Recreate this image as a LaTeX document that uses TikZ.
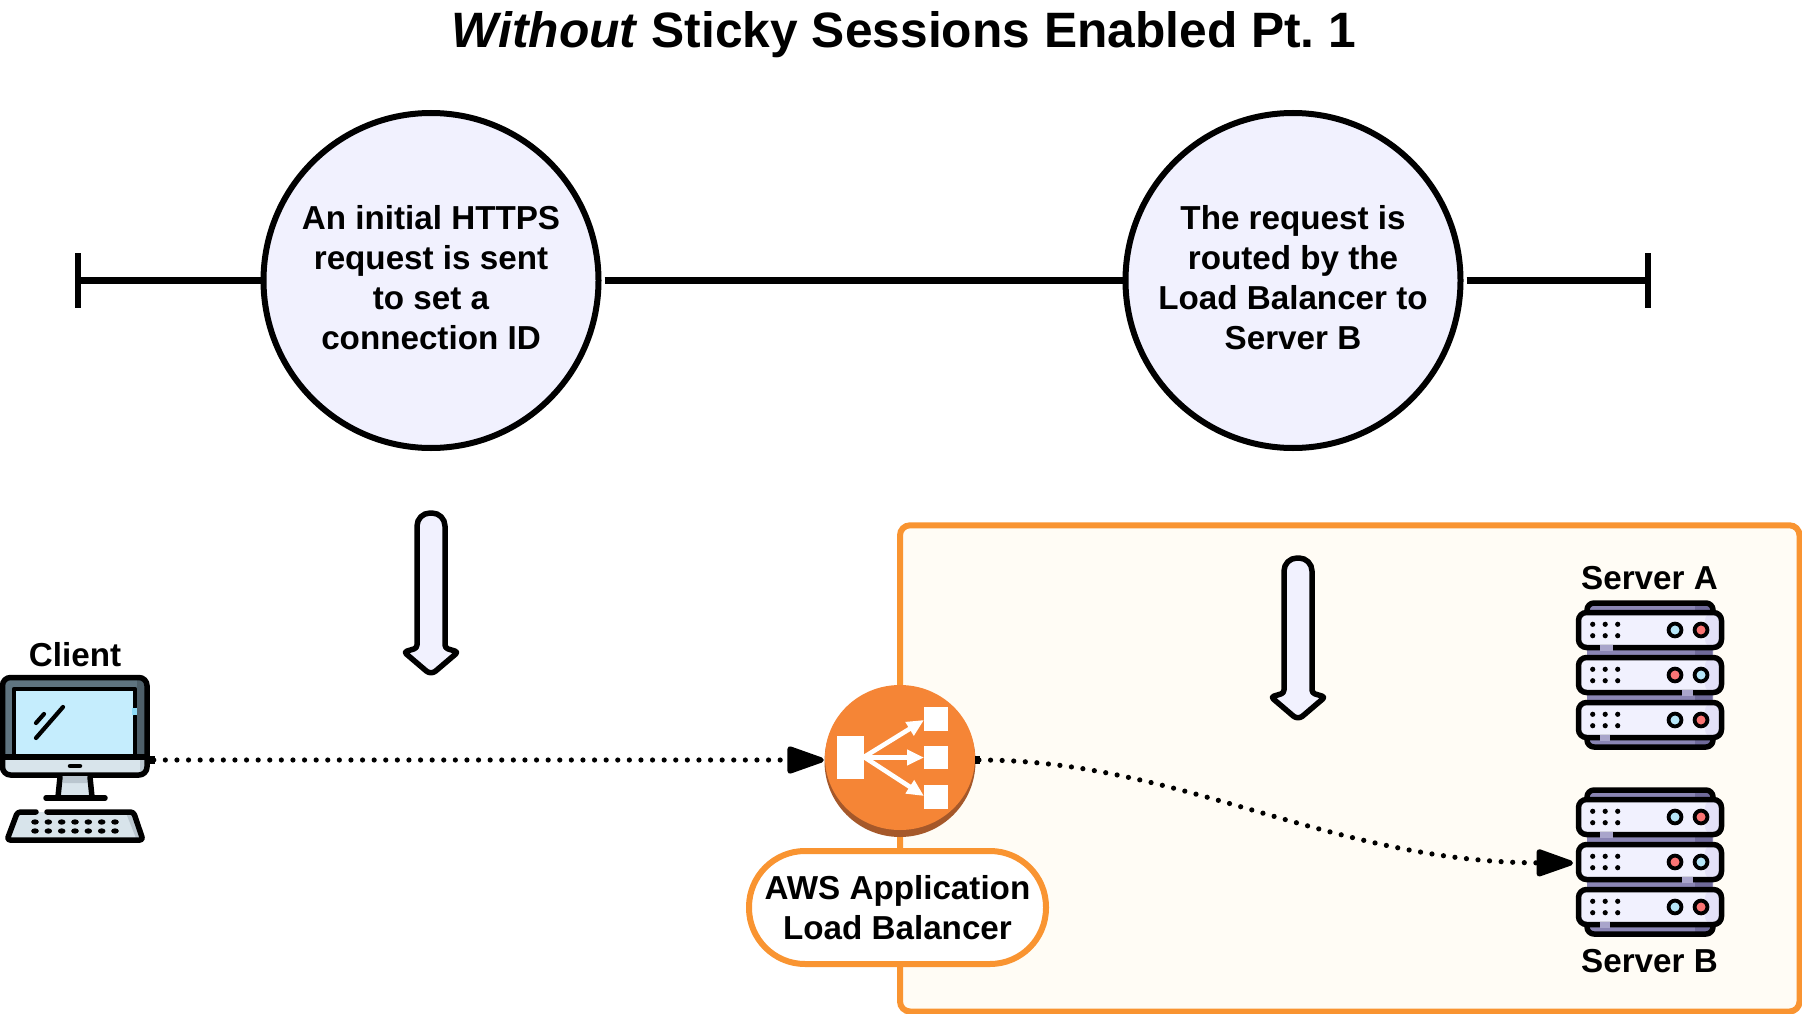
\documentclass[tikz,border=0pt]{standalone}
\usepackage{fontspec}
\setmainfont{Liberation Sans}
\usetikzlibrary{arrows.meta,shapes.geometric}
\definecolor{lav}{HTML}{F1F1FE}
\definecolor{lavd}{HTML}{E3E1F8}
\definecolor{capc}{HTML}{8A85B4}
\definecolor{capd}{HTML}{6F6A9A}
\definecolor{capl}{HTML}{A9A5CB}
\definecolor{panelc}{HTML}{FFFCF5}
\definecolor{oline}{HTML}{F99431}
\definecolor{ofill}{HTML}{F58536}
\definecolor{obrown}{HTML}{A5582A}
\definecolor{ledb}{HTML}{B5E6F8}
\definecolor{ledr}{HTML}{FB7474}
\definecolor{bezel}{HTML}{5F7480}
\definecolor{bezeld}{HTML}{4E5F69}
\definecolor{scr}{HTML}{C5EDFD}
\definecolor{scrl}{HTML}{8FDCF8}
\definecolor{chin}{HTML}{D8E4EB}
\definecolor{chind}{HTML}{BAC6CF}
\tikzset{
  x=1pt,y=-1pt,
  bodyfont/.style={font=\fontsize{33.2}{40}\selectfont\bfseries},
  bubble/.style={circle,draw=black,line width=6pt,fill=lav,minimum size=335pt,inner sep=0pt},
  bubbletext/.style={bodyfont,align=center,inner sep=0pt,yshift=3pt},
  timeline/.style={line width=6.4pt,draw=black},
  lbl/.style={bodyfont,align=center,inner sep=0pt},
  flow/.style={line width=5.2pt,line cap=round,dash pattern=on 0pt off 11.6pt,{Square[length=5pt,width=8pt,sep=0pt]}-{Triangle[length=42pt,width=28pt,round=false]}},
  ol/.style={line width=5.5pt,draw=black,line join=round,line cap=round},
  bigdown/.pic={
    \draw[line width=5.5pt,fill=lav,line join=round]
      [rounded corners=13pt] (-14,30) -- (-14,-14) -- (14,-14) -- (14,30)
      [rounded corners=3pt] -- (14,121) -- (27,125)
      [rounded corners=6pt] -- (0,148)
      [rounded corners=3pt] -- (-27,125) -- (-14,121) -- (-14,30) -- cycle;
  },
  serverunit/.pic={
    \fill[lav,rounded corners=8pt] (-71.5,-17.5) rectangle (71.5,17.5);
    \fill[lavd,rounded corners=8pt] (55,-17.5) rectangle (71.5,17.5);
    \draw[ol,rounded corners=8pt] (-71.5,-17.5) rectangle (71.5,17.5);
    \foreach \dx in {-57.3,-44.8,-32.3}\foreach \dy in {-5.7,5.7}\fill (\dx,\dy) circle (2.6pt);
  },
  serverpic/.pic={
    \fill[capc,rounded corners=6pt] (-63,-72) rectangle (63,72);
    \fill[capd] (45,-70) rectangle (62,70);
    \draw[ol,rounded corners=7pt] (-63,-62) -- (-63,-72) -- (63,-72) -- (63,-62);
    \draw[ol,rounded corners=7pt] (-63,62) -- (-63,72) -- (63,72) -- (63,62);
    \path (0,-45) pic {serverunit};
    \path (0,45) pic {serverunit};
    \path (0,0) pic {serverunit};
    \foreach \yy/\a/\b in {-45/ledb/ledr,0/ledr/ledb,45/ledb/ledr}{
      \filldraw[fill=\a,line width=3.8pt] (25,\yy) circle (6.4pt);
      \filldraw[fill=\b,line width=3.8pt] (51,\yy) circle (6.4pt);
    }
    \draw[capl,line width=6pt] (-50,-27.5) -- (-37,-27.5);
    \draw[capl,line width=6pt] (32,17.5) -- (43,17.5);
    \draw[capl,line width=6pt] (-50,62.5) -- (-40,62.5);
  },
}
\begin{document}
\begin{tikzpicture}
\useasboundingbox (0,0) rectangle (1802,1014);
\fill[white] (0,0) rectangle (1802,1014);

% title
\node[inner sep=0pt,font=\fontsize{49.7}{54}\selectfont\bfseries] (title) at (904,35) {\textit{Without} Sticky Sessions Enabled Pt.\ 1};

% timeline
\coordinate (tl) at (78,280.5);
\coordinate (tlA) at (78,253);
\coordinate (tlB) at (78,308);
\coordinate (tr) at (1648,280.5);
\coordinate (trA) at (1648,253);
\coordinate (trB) at (1648,308);
\node[bubble] (c1) at (431,280.5) {};
\node[bubbletext] (c1text) at (c1) {An initial HTTPS\\request is sent\\to set a\\connection ID};
\node[bubble] (c2) at (1293,280.5) {};
\node[bubbletext] (c2text) at (c2) {The request is\\routed by the\\Load Balancer to\\Server B};
\draw[timeline] (tlA) -- (tlB);
\draw[timeline] (trA) -- (trB);
\draw[timeline] (tl) -- (c1.west);
\draw[timeline,shorten <=3pt] (c1.east) -- (c2.west);
\draw[timeline,shorten <=3pt] (c2.east) -- (tr);

% panel
\draw[draw=oline,fill=panelc,line width=6pt,rounded corners=10pt] (900,525.3) rectangle (1799.5,1011.5);

% down arrows
\path (431,527) pic {bigdown};
\path (1298,572) pic {bigdown};

% client icon
\begin{scope}
\fill[bezel,rounded corners=8pt] (2.5,677.5) rectangle (147,758);
\fill[bezeld] (137,680) rectangle (147,756);
\fill[scr] (14,689) rectangle (135,755);
\draw[ol,line width=4.5pt] (14,755) -- (14,689) -- (135,689) -- (135,707);
\draw[ol,line width=4.5pt] (135,716) -- (135,755);
\fill[scrl] (132,708) rectangle (137,715);
\fill[chin,rounded corners=6pt] (3,757) rectangle (147,775);
\fill[chind] (140,758) rectangle (146,772);
\draw[ol,rounded corners=8pt] (2.5,757) -- (2.5,677.5) -- (147,677.5) -- (147,757);
\draw[ol,rounded corners=8pt] (2.5,757) -- (2.5,775) -- (147,775) -- (147,757);
\draw[ol] (2.5,757) -- (147,757);
\draw[ol,line width=4.5pt] (70,766) -- (80,766);
\draw[ol,line width=4.2pt] (36,723) -- (44,714);
\draw[ol,line width=4.2pt] (36,738) -- (63,707);
\fill[chin] (61,776) -- (90,776) -- (92,797) -- (59,797) -- cycle;
\fill[chind] (62,776) -- (90,776) -- (90,783) -- (63,783) -- cycle;
\draw[ol] (60,777) -- (58,797);
\draw[ol] (90,777) -- (92,797);
\draw[ol] (46,798) -- (105,798);
\fill[chin] (18,812) -- (133,812) -- (142,840) -- (8,840) -- cycle;
\fill[chind] (126,813) -- (133,813) -- (141,838) -- (136,838) -- cycle;
\draw[ol,rounded corners=3pt] (36,812) -- (17.5,812) -- (7,840) -- (143,840) -- (133.5,812) -- (47,812);
\foreach \kx in {35,48.3,61.7,75,88.3,101.7,115}\foreach \ky in {822,831}
  \fill (\kx,\ky) ellipse (3.8pt and 2.7pt);
\end{scope}
\coordinate (clientport) at (150,760);
\node[lbl] (clientlabel) at (75,655) {Client};

% servers
\path (1650,675) pic {serverpic};
\path (1650,862) pic {serverpic};
\coordinate (serverBport) at (1573,863);
\node[lbl] (serverAlabel) at (1649.5,578) {Server A};
\node[lbl] (serverBlabel) at (1649.5,961) {Server B};

% load balancer
\fill[obrown] (900,761.5) circle (75.5pt);
\fill[ofill] (900,757.5) ellipse (75pt and 72.5pt);
\node[circle,minimum size=150pt,inner sep=0pt] (lb) at (900,760) {};
\fill[white] (837,736) rectangle (864,779);
\fill[white] (924,707) rectangle (948,731);
\fill[white] (924,746) rectangle (948,769);
\fill[white] (924,785) rectangle (948,809);
\draw[white,line width=4.6pt,-{Triangle[length=17pt,width=15pt]}] (864,757) -- (924,720);
\draw[white,line width=4.6pt,-{Triangle[length=17pt,width=15pt]}] (864,757.5) -- (924,757.5);
\draw[white,line width=4.6pt,-{Triangle[length=17pt,width=15pt]}] (864,757) -- (924,796);
\node[draw=oline,fill=white,line width=6pt,rounded corners=56pt,minimum width=297pt,minimum height=113pt,inner sep=0pt,align=center,bodyfont] (pill) at (897.5,907.5) {AWS Application\\Load Balancer};

% connectors
\draw[flow,shorten >=1pt] (clientport) -- (lb.west);
\draw[flow] (lb.east) .. controls (1180,760) and (1330,862) .. (serverBport);
\end{tikzpicture}
\end{document}
